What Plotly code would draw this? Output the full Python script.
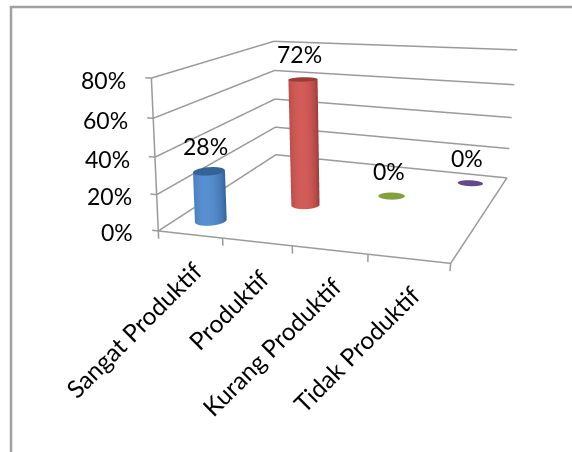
import numpy as np
import plotly.graph_objects as go

# chart data
categories = ["Sangat Produktif", "Produktif", "Kurang Produktif", "Tidak Produktif"]
shares = [0.28, 0.72, 0.0, 0.0]
share_labels = ["28%", "72%", "0%", "0%"]
axis_ticks = [0.0, 0.2, 0.4, 0.6, 0.8]
axis_tick_labels = ["0%", "20%", "40%", "60%", "80%"]

# floor position of each cylinder (category axis, depth axis) and its thickness
bar_x = [0.517, 1.552, 2.616, 3.548]
bar_depth = [0.1375, 0.391, 0.596, 0.869]
bar_scale = [1.0, 0.93, 0.87, 0.83]
# light centre, dark edge, cap
bar_colors = [
    ((88, 143, 208), (48, 96, 150), (52, 99, 152)),
    ((211, 92, 88), (145, 52, 50), (156, 60, 58)),
    ((138, 166, 60), (120, 145, 50), (132, 160, 58)),
    ((106, 74, 140), (90, 62, 120), (102, 72, 136)),
]
GRID = "#9a9a9a"
INK = "#000000"
FONT = "Lato"
FONT_SIZE = 23
CAT_FONT_SIZE = 24.5

# scene box: hidden axes, wide enough that nothing gets clipped
X_LO, X_HI = -0.5, 5.5
Y_LO, Y_HI = -0.5, 2.0
Z_LO, Z_HI = -0.1, 0.9
UNITS = np.array([1.0, 0.7825, 0.4774])
VIEW_CENTRE_X = 330.0

# camera relative to the centre of the 0..4 / 0..1 / 0..0.8 block
EYE = np.array([0.7375, -1.6790, 0.5257])
LOOK_AT = np.array([0.4617, -1.0991, 0.2202])
UP = dict(x=-0.4528, y=1.1140, z=1.0)

# keystone of the walls, per full height
K_X, K_Y, SHEAR_X, SHEAR_Y = -0.0224, 0.0018, 0.0048, 0.0572
# block-corner adjustments (x, depth) on the floor and at the top of the walls,
# as fractions of the block; keys are (x side, depth side)
FLOOR_ADJ = {(0, 0): (0.0234, -0.0723), (1, 0): (-0.0321, 0.0659),
             (1, 1): (0.0177, -0.0070), (0, 1): (0.0031, -0.0144)}
TOP_ADJ = {(0, 0): (0.0033, 0.00085), (1, 0): (-0.0107, -0.0036),
           (1, 1): (0.0184, -0.1060), (0, 1): (-0.0457, 0.0885)}
# cylinder cross-section: the two half axes, as fractions of the block
SECTION_A = (0.0514, 0.0220)
SECTION_B = (-0.0186, 0.0471)

center_frac = np.array([(X_LO + X_HI) / 8.0, (Y_LO + Y_HI) / 2.0, (Z_LO + Z_HI) / 1.6])
box_shift = -(center_frac - 0.5) * UNITS
spans = np.array([(X_HI - X_LO) / 4.0, Y_HI - Y_LO, (Z_HI - Z_LO) / 0.8])


def place(x, y, z):
    """Scene coordinates of a chart position (category, depth, value)."""
    fx, fy, fz = np.asarray(x, float) / 4.0, np.asarray(y, float), np.asarray(z, float) / 0.8
    dx, dy = 0.0, 0.0
    for (sx, sy) in FLOOR_ADJ:
        w = (fx if sx else 1 - fx) * (fy if sy else 1 - fy)
        dx = dx + w * ((1 - fz) * FLOOR_ADJ[(sx, sy)][0] + fz * TOP_ADJ[(sx, sy)][0])
        dy = dy + w * ((1 - fz) * FLOOR_ADJ[(sx, sy)][1] + fz * TOP_ADJ[(sx, sy)][1])
    return (4.0 * (fx + fz * (K_X * (fx - .5) + SHEAR_X) + dx),
            fy + fz * (K_Y * (fy - .5) + SHEAR_Y) + dy,
            np.asarray(z, float))


def as_xyz(v):
    return dict(x=float(v[0]), y=float(v[1]), z=float(v[2]))


def shade(light, dark, t):
    c = [round(d + (l - d) * t) for l, d in zip(light, dark)]
    return f"rgb({c[0]},{c[1]},{c[2]})"


def cylinder(x0, y0, h, scale, colors, n=64):
    """Upright cylinder; a zero height leaves only the flat cap."""
    light, dark, cap = colors
    th = np.linspace(0, 2 * np.pi, n, endpoint=False)
    ex = x0 + scale * 4 * (SECTION_A[0] * np.cos(th) + SECTION_B[0] * np.sin(th))
    ey = y0 + scale * (SECTION_A[1] * np.cos(th) + SECTION_B[1] * np.sin(th))
    xs, ys, zs, cols, ii, jj, kk = [], [], [], [], [], [], []
    if h > 0:
        for z in (0.0, h):
            wx, wy, wz = place(ex, ey, np.full(n, z))
            xs += list(wx); ys += list(wy); zs += list(wz)
            for t in th:
                u = np.cos(t)
                cols.append(shade(light, dark, max(0.0, 1 - ((u + 0.15) / 1.15) ** 2) ** 0.6))
        for a in range(n):
            b = (a + 1) % n
            ii += [a, b]; jj += [b, b + n]; kk += [a + n, a + n]
    base = len(xs)
    wx, wy, wz = place(np.r_[ex, x0], np.r_[ey, y0], np.full(n + 1, h))
    xs += list(wx); ys += list(wy); zs += list(wz)
    cols += [f"rgb({cap[0]},{cap[1]},{cap[2]})"] * (n + 1)
    for a in range(n):
        ii.append(base + n); jj.append(base + a); kk.append(base + (a + 1) % n)
    return go.Mesh3d(
        x=xs, y=ys, z=zs, i=ii, j=jj, k=kk, vertexcolor=cols, hoverinfo="skip",
        flatshading=False,
        lighting=dict(ambient=1, diffuse=0, specular=0, fresnel=0, roughness=1),
    )


def polyline(x, y, z, color=GRID, width=3):
    wx, wy, wz = place(x, y, z)
    return go.Scatter3d(x=wx, y=wy, z=wz, mode="lines", line=dict(color=color, width=width),
                        hoverinfo="skip", showlegend=False)


def point(x, y, z):
    wx, wy, wz = place(x, y, z)
    return dict(x=float(wx), y=float(wy), z=float(wz))


fig = go.Figure()

# wall grid lines bending at the back corner, with their tick marks
for t in axis_ticks:
    fig.add_trace(polyline([0, 0, 4], [0, 1, 1], [t, t, t]))
    fig.add_trace(polyline([-0.1, 0], [0, 0], [t, t]))
# value axis, floor edges and category ticks
fig.add_trace(polyline([0, 0], [0, 0], [0, 0.8]))
fig.add_trace(polyline([0, 4, 4], [0, 0, 1], [0, 0, 0]))
for i in range(5):
    fig.add_trace(polyline([i, i], [0, 0], [0, -0.043]))

for x0, y0, v, s, c in zip(bar_x, bar_depth, shares, bar_scale, bar_colors):
    fig.add_trace(cylinder(x0, y0, v, s, c))

notes = []
for t, lab in zip(axis_ticks, axis_tick_labels):
    notes.append(dict(**point(0, 0, t), text=lab, showarrow=False, xanchor="right", yanchor="middle",
                      xshift=-23, yshift=-1.5, font=dict(family=FONT, size=FONT_SIZE, color=INK)))
for x0, y0, v, lab in zip(bar_x, bar_depth, shares, share_labels):
    notes.append(dict(**point(x0, y0, v), text=lab, showarrow=False, xanchor="center", yanchor="middle",
                      xshift=-3, yshift=25, font=dict(family=FONT, size=FONT_SIZE, color=INK)))
for i, cat in enumerate(categories):
    notes.append(dict(**point(i + 0.5, 0, 0), text=cat, showarrow=False, textangle=-45,
                      xanchor="right", yanchor="top", xshift=20.5, yshift=-18.5,
                      font=dict(family=FONT, size=CAT_FONT_SIZE, color=INK)))

hidden = dict(visible=False, showgrid=False, zeroline=False, showspikes=False, showbackground=False)
fig.update_layout(
    width=572, height=452, margin=dict(l=0, r=0, t=0, b=0),
    paper_bgcolor="white", showlegend=False,
    shapes=[dict(type="path", xref="paper", yref="paper",
                 path=f"M {11/572} 0 L {11/572} {1-7/452} L 1 {1-7/452}",
                 line=dict(color="#a0a0a0", width=2.5))],
    scene=dict(
        domain=dict(x=[(2 * VIEW_CENTRE_X - 572) / 572, 1], y=[0, 1]),
        xaxis=dict(range=[X_LO, X_HI], **hidden),
        yaxis=dict(range=[Y_LO, Y_HI], **hidden),
        zaxis=dict(range=[Z_LO, Z_HI], **hidden),
        aspectmode="manual",
        aspectratio=as_xyz(UNITS * spans),
        camera=dict(eye=as_xyz(EYE + box_shift), center=as_xyz(LOOK_AT + box_shift), up=UP,
                    projection=dict(type="perspective")),
        dragmode="orbit",
        annotations=notes,
        bgcolor="rgba(0,0,0,0)",
    ),
)
fig.write_html("out.html")
